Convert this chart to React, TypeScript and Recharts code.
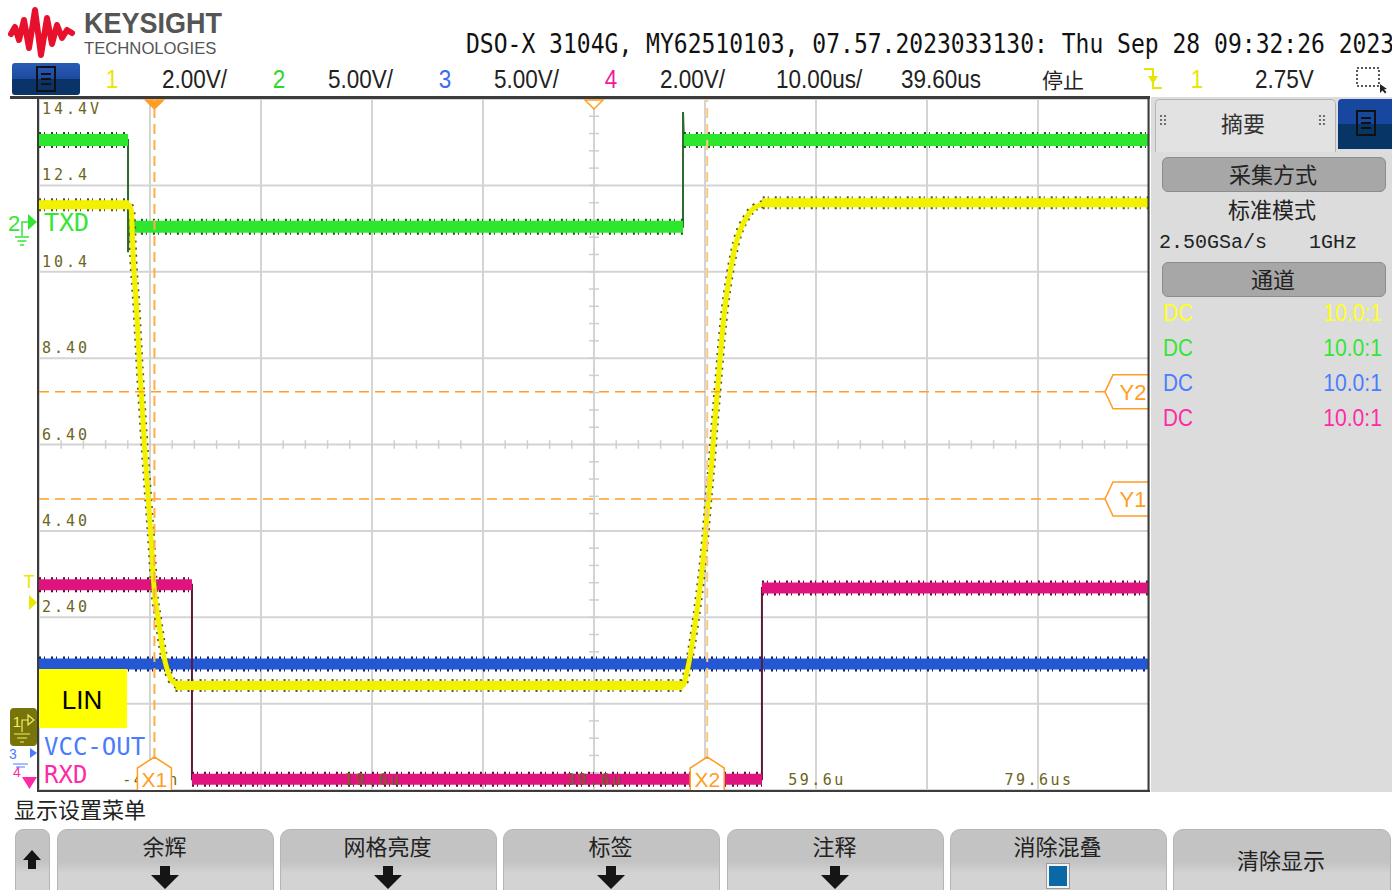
import React from "react"
import {
  LineChart,
  Line,
  XAxis,
  YAxis,
  CartesianGrid,
  ReferenceLine,
} from "recharts"

// time axis, microseconds (10 us/div, centre 39.6 us)
const timeTicks = [-10.4, -0.4, 9.6, 19.6, 29.6, 39.6, 49.6, 59.6, 69.6, 79.6, 89.6]
const timeLabels = ["", "-400n", "", "19.6u", "", "39.6u", "", "59.6u", "", "79.6us", ""]
// vertical axis in channel 1 volts (2 V/div)
const voltTicks = [-1.6, 0.4, 2.4, 4.4, 6.4, 8.4, 10.4, 12.4, 14.4]
const voltLabels = ["", "", "2.40", "4.40", "6.40", "8.40", "10.4", "12.4", "14.4V"]

// ch1 LIN (yellow)
const linTime = [-10.4, -2.4, -2.1, -1.9, -1.66, -1.3, -0.85, -0.55, -0.25, -0.04, 0.35, 0.8, 1.25, 1.67, 2.3, 47.6, 47.95, 48.4, 48.85, 49.3, 49.6, 49.9, 50.2, 50.5, 50.8, 51.1, 51.4, 51.85, 52.46, 53.36, 54.56, 56.06, 89.6]
const linVolt = [11.95, 11.95, 11.85, 10.67, 9.75, 8.06, 6.2, 5.12, 4.03, 3.1, 2.34, 1.57, 1.11, 0.9, 0.82, 0.82, 1.11, 1.71, 2.5, 3.42, 4.19, 5.12, 5.97, 6.97, 7.89, 8.82, 9.58, 10.37, 11.13, 11.67, 11.95, 12.0, 12.0]
const linBandTime = [-10.4, -2.3, -2.2, 1.9, 47.6, 47.7, 54.8, 89.6]
const linBandVolt = [11.95, 11.95, null, 0.82, 0.82, null, 12.0, 12.0]

// ch2 TXD (green)
const txdTime = [-10.4, -2.38, -2.38, -2.3, 47.62, 47.62, 47.7, 89.6]
const txdVolt = [13.45, 13.45, 10.85, 11.44, 11.44, 14.1, 13.45, 13.45]
const txdBandTime = [-10.4, -2.38, -2.34, -2.3, 47.62, 47.66, 47.7, 89.6]
const txdBandVolt = [13.45, 13.45, null, 11.44, 11.44, null, 13.45, 13.45]

// ch3 VCC-OUT (blue)
const vccTime = [-10.4, 89.6]
const vccVolt = [1.32, 1.32]

// ch4 RXD (pink)
const rxdTime = [-10.4, 3.38, 3.38, 54.73, 54.73, 89.6]
const rxdVolt = [3.15, 3.15, -1.35, -1.35, 3.08, 3.08]
const rxdBandTime = [-10.4, 3.38, 3.38, 3.38, 54.73, 54.73, 54.73, 89.6]
const rxdBandVolt = [3.15, 3.15, null, -1.35, -1.35, null, 3.08, 3.08]

// cursors
const cursorX1 = 0
const cursorX2 = 49.8
const cursorY1 = 5.14
const cursorY2 = 7.62
const triggerTime = 0
const timeRef = 39.6

const pts = (ts: number[], vs: (number | null)[]) => ts.map((t, i) => ({ t, v: vs[i] }))

const linPts = pts(linTime, linVolt)
const linBand = pts(linBandTime, linBandVolt)
const txdPts = pts(txdTime, txdVolt)
const txdBand = pts(txdBandTime, txdBandVolt)
const vccPts = pts(vccTime, vccVolt)
const rxdPts = pts(rxdTime, rxdVolt)
const rxdBand = pts(rxdBandTime, rxdBandVolt)

// minor graticule ticks on the centre lines
const minorTimes = timeTicks
  .slice(0, -1)
  .flatMap((t) => [0, 1, 2, 3, 4].map((k) => +(t + k * 2).toFixed(2)))
  .concat([89.6])
const minorVolts = voltTicks
  .slice(0, -1)
  .flatMap((v) => [0, 1, 2, 3, 4].map((k) => +(v + k * 0.4).toFixed(2)))
  .concat([14.4])

const SANS = "'Liberation Sans', Arial, sans-serif"
const MONO = "'DejaVu Sans Mono', monospace"
const CJK = "'Noto Sans CJK SC', sans-serif"
const SMONO = "'Liberation Mono', monospace"
const OLIVE = "#6b6520"
const ORANGE = "#ff9d24"

function Txt({ x, y, size, color = "#222", font = SANS, anchor = "start", sx = 1, weight = 400, children }: any) {
  const tx = anchor === "middle" ? "-50%" : anchor === "end" ? "-100%" : "0"
  const origin = anchor === "middle" ? "center" : anchor === "end" ? "right center" : "left center"
  return (
    <div
      style={{
        position: "absolute",
        left: x,
        top: y - size / 2,
        fontSize: size,
        lineHeight: `${size}px`,
        color,
        fontFamily: font,
        fontWeight: weight,
        whiteSpace: "nowrap",
        transform: `translateX(${tx}) scaleX(${sx})`,
        transformOrigin: origin,
      }}
    >
      {children}
    </div>
  )
}

function TimeTick(p: any) {
  const label = timeLabels[timeTicks.indexOf(p.payload.value)]
  if (!label) return <g />
  return (
    <text x={p.x + 1} y={790 - 10} textAnchor="middle" dominantBaseline="central" fill={OLIVE} fontSize={15} fontFamily={MONO} letterSpacing={2.5}>
      {label}
    </text>
  )
}

function VoltTick(p: any) {
  const label = voltLabels[voltTicks.indexOf(p.payload.value)]
  if (!label) return <g />
  const dy = p.payload.value === 14.4 ? 10 : -10
  return (
    <text x={42} y={p.y + dy} dominantBaseline="central" fill={OLIVE} fontSize={15} fontFamily={MONO} letterSpacing={3}>
      {label}
    </text>
  )
}

function XTag({ vb, text }: any) {
  const cx = vb.x
  const b = vb.y + vb.height
  const d = `M${cx - 17},${b} V${b - 22} L${cx},${b - 33} L${cx + 17},${b - 22} V${b}`
  return (
    <g>
      <path d={d} fill="#fff" stroke={ORANGE} strokeWidth={1.5} />
      <text x={cx} y={b - 11} textAnchor="middle" dominantBaseline="central" fill={ORANGE} fontSize={21} fontFamily={SANS}>
        {text}
      </text>
    </g>
  )
}

function YTag({ vb, text }: any) {
  const r = vb.x + vb.width
  const cy = vb.y
  const d = `M${r},${cy - 17} H${r - 36} L${r - 44},${cy} L${r - 36},${cy + 17} H${r}`
  return (
    <g>
      <path d={d} fill="#fff" stroke={ORANGE} strokeWidth={1.5} />
      <text x={r - 16} y={cy + 1} textAnchor="middle" dominantBaseline="central" fill={ORANGE} fontSize={22} fontFamily={SANS}>
        {text}
      </text>
    </g>
  )
}

function TopMark({ vb, filled }: any) {
  const cx = vb.x
  const t = vb.y
  return (
    <path
      d={`M${cx - 9},${t + 1} L${cx + 9},${t + 1} L${cx},${t + 10} Z`}
      fill={filled ? ORANGE : "#fff"}
      stroke={ORANGE}
      strokeWidth={1.5}
    />
  )
}

function DocIcon({ x, y }: any) {
  return (
    <svg style={{ position: "absolute", left: x, top: y }} width={22} height={26}>
      <rect x={2} y={1} width={18} height={24} fill="none" stroke="#111" strokeWidth={2} />
      <line x1={6} x2={16} y1={8} y2={8} stroke="#111" strokeWidth={2} />
      <line x1={6} x2={16} y1={13} y2={13} stroke="#111" strokeWidth={2} />
      <line x1={6} x2={16} y1={18} y2={18} stroke="#111" strokeWidth={2} />
    </svg>
  )
}

function Header() {
  return (
    <>
      <svg style={{ position: "absolute", left: 0, top: 0 }} width={80} height={62}>
        <polyline
          points="11,34 15,27 19,40 24,20 29,48 35,10 41,55 47,18 52,44 57,25 62,38 67,30 72,33"
          fill="none"
          stroke="#e8112d"
          strokeWidth={6}
          strokeLinejoin="round"
          strokeLinecap="round"
        />
      </svg>
      <Txt x={84} y={23} size={30} color="#555" sx={0.9} weight={700}>KEYSIGHT</Txt>
      <Txt x={84} y={48} size={17} color="#555" sx={0.98}>TECHNOLOGIES</Txt>
      <Txt x={466} y={44} size={26} font={MONO} sx={0.885} color="#111">
        DSO-X 3104G, MY62510103, 07.57.2023033130: Thu Sep 28 09:32:26 2023
      </Txt>
      <div
        style={{
          position: "absolute",
          left: 12,
          top: 63,
          width: 68,
          height: 32,
          borderRadius: 3,
          background: "linear-gradient(#2a5bb5 0%, #1d4a9e 50%, #0a3468 50%, #0a3468 100%)",
        }}
      />
      <DocIcon x={35} y={66} />
      <Txt x={112} y={79} size={25} color="#e8e800" anchor="middle" sx={0.9}>1</Txt>
      <Txt x={162} y={79} size={25} sx={0.9}>2.00V/</Txt>
      <Txt x={279} y={79} size={25} color="#2ed62e" anchor="middle" sx={0.9}>2</Txt>
      <Txt x={328} y={79} size={25} sx={0.9}>5.00V/</Txt>
      <Txt x={445} y={79} size={25} color="#3c6cf0" anchor="middle" sx={0.9}>3</Txt>
      <Txt x={494} y={79} size={25} sx={0.9}>5.00V/</Txt>
      <Txt x={611} y={79} size={25} color="#f01a9a" anchor="middle" sx={0.9}>4</Txt>
      <Txt x={660} y={79} size={25} sx={0.9}>2.00V/</Txt>
      <Txt x={776} y={79} size={25} sx={0.9}>10.00us/</Txt>
      <Txt x={901} y={79} size={25} sx={0.9}>39.60us</Txt>
      <Txt x={1042} y={79} size={21} font={CJK}>停止</Txt>
      <svg style={{ position: "absolute", left: 1140, top: 64 }} width={26} height={30}>
        <path d="M4,5 H13 V24 H22" fill="none" stroke="#e6e600" strokeWidth={2} />
        <path d="M8,12 H18 L13,20 Z" fill="#e6e600" />
      </svg>
      <Txt x={1197} y={79} size={25} color="#e8e800" anchor="middle" sx={0.9}>1</Txt>
      <Txt x={1255} y={79} size={25} sx={0.9}>2.75V</Txt>
      <svg style={{ position: "absolute", left: 1354, top: 64 }} width={36} height={30}>
        <rect x={3} y={4} width={22} height={18} fill="none" stroke="#222" strokeWidth={1.5} strokeDasharray="2 2" />
        <path d="M26,20 L26,29 L28.5,26.5 L31,29.5 L32.5,28 L30,25.5 L33,25 Z" fill="#222" />
      </svg>
    </>
  )
}

function SidePanel() {
  const rows = ["#ffff22", "#33e633", "#4a7cff", "#ff2aa6"]
  const dots = (x: number) =>
    [0, 1].flatMap((i) =>
      [0, 1, 2].map((j) => <circle key={`${x}-${i}-${j}`} cx={x + i * 4} cy={116 + j * 4} r={1.1} fill="#555" />)
    )
  return (
    <>
      <div style={{ position: "absolute", left: 1151, top: 97, width: 241, height: 695, background: "#dcdcdc" }} />
      <div
        style={{
          position: "absolute",
          left: 1155,
          top: 99,
          width: 179,
          height: 52,
          background: "#e2e2e2",
          border: "1px solid #b4b4b4",
          borderBottom: "none",
          borderRadius: "5px 5px 0 0",
        }}
      />
      <div
        style={{
          position: "absolute",
          left: 1338,
          top: 99,
          width: 54,
          height: 50,
          borderRadius: "4px 0 0 0",
          background: "linear-gradient(#17479e 0%, #17479e 50%, #063566 50%, #063566 100%)",
        }}
      />
      <DocIcon x={1355} y={110} />
      <svg style={{ position: "absolute", left: 0, top: 0 }} width={1392} height={140}>
        {dots(1161)}
        {dots(1320)}
      </svg>
      <Txt x={1243} y={122} size={22} font={CJK} anchor="middle" color="#333">摘要</Txt>
      <div style={{ position: "absolute", left: 1162, top: 157, width: 222, height: 33, borderRadius: 6, background: "#a7a7a7", border: "1px solid #8c8c8c" }} />
      <Txt x={1273} y={173} size={22} font={CJK} anchor="middle" color="#222">采集方式</Txt>
      <Txt x={1272} y={208} size={22} font={CJK} anchor="middle" color="#222">标准模式</Txt>
      <Txt x={1159} y={243} size={20} font={SMONO} color="#222">2.50GSa/s</Txt>
      <Txt x={1309} y={243} size={20} font={SMONO} color="#222">1GHz</Txt>
      <div style={{ position: "absolute", left: 1162, top: 262, width: 222, height: 33, borderRadius: 6, background: "#a7a7a7", border: "1px solid #8c8c8c" }} />
      <Txt x={1273} y={278} size={22} font={CJK} anchor="middle" color="#222">通道</Txt>
      {rows.map((c, i) => (
        <React.Fragment key={i}>
          <Txt x={1163} y={313 + i * 35} size={23} color={c} sx={0.9}>DC</Txt>
          <Txt x={1382} y={313 + i * 35} size={23} color={c} sx={0.92} anchor="end">10.0:1</Txt>
        </React.Fragment>
      ))}
    </>
  )
}

function DownArrow({ cx }: any) {
  return (
    <svg style={{ position: "absolute", left: cx - 15, top: 866 }} width={30} height={24}>
      <path d="M10,0 H20 V9 H29 L15,23 L1,9 H10 Z" fill="#151515" />
    </svg>
  )
}

function SoftKeys() {
  const keys = [
    { l: 57, r: 272, t: "余辉", mark: "arrow" },
    { l: 280, r: 495, t: "网格亮度", mark: "arrow" },
    { l: 503, r: 718, t: "标签", mark: "arrow" },
    { l: 727, r: 942, t: "注释", mark: "arrow" },
    { l: 950, r: 1165, t: "消除混叠", mark: "box" },
    { l: 1173, r: 1389, t: "清除显示", mark: "none" },
  ]
  const bg = "linear-gradient(#c3c3c3 0%, #c3c3c3 42%, #d3d3d3 58%, #d3d3d3 100%)"
  return (
    <>
      <Txt x={14} y={808} size={22} font={CJK} color="#222">显示设置菜单</Txt>
      <div style={{ position: "absolute", left: 15, top: 829, width: 33, height: 75, borderRadius: 8, background: bg, border: "1px solid #b5b5b5" }} />
      <svg style={{ position: "absolute", left: 20, top: 848 }} width={24} height={24}>
        <path d="M12,2 L21,12 H16 V21 H8 V12 H3 Z" fill="#151515" />
      </svg>
      {keys.map((k) => {
        const cx = (k.l + k.r) / 2
        return (
          <React.Fragment key={k.t}>
            <div style={{ position: "absolute", left: k.l, top: 829, width: k.r - k.l, height: 75, borderRadius: 10, background: bg, border: "1px solid #b5b5b5" }} />
            <Txt x={cx} y={k.mark === "none" ? 859 : 845} size={22} font={CJK} anchor="middle" color="#222">{k.t}</Txt>
            {k.mark === "arrow" && <DownArrow cx={cx} />}
            {k.mark === "box" && (
              <div style={{ position: "absolute", left: cx - 11, top: 864, width: 18, height: 20, background: "#0b68a6", border: "2px solid #f2f2f2", outline: "1px solid #9a9a9a" }} />
            )}
          </React.Fragment>
        )
      })}
    </>
  )
}

function Overlay() {
  return (
    <svg style={{ position: "absolute", left: 0, top: 0, pointerEvents: "none" }} width={1392} height={890}>
      {/* graticule frame */}
      <line x1={10} x2={1150} y1={97.5} y2={97.5} stroke="#3c3c3c" strokeWidth={3} />
      <line x1={38} x2={38} y1={97} y2={792} stroke="#3c3c3c" strokeWidth={2} />
      <line x1={37} x2={1150} y1={791} y2={791} stroke="#3c3c3c" strokeWidth={2} />
      <line x1={1148.5} x2={1148.5} y1={97} y2={792} stroke="#3c3c3c" strokeWidth={2} />

      {/* ch2 marker */}
      <text x={8} y={223} dominantBaseline="central" fill="#33e633" fontSize={22} fontFamily={SANS}>2</text>
      <path d="M22,236 V222 H28" fill="none" stroke="#33e633" strokeWidth={1.5} />
      <path d="M28,214 L37,222 L28,230 Z" fill="#33e633" />
      <path d="M15,237 H29 M17.5,241 H26.5 M20,245 H24" stroke="#33e633" strokeWidth={1.5} />

      {/* trigger level */}
      <text x={29} y={582} textAnchor="middle" dominantBaseline="central" fill="#e8e800" fontSize={18} fontFamily={SANS}>T</text>
      <path d="M29,595 L37,602.5 L29,610 Z" fill="#e8e800" />

      {/* ch1 marker */}
      <rect x={10} y={708} width={27} height={38} rx={4} fill="#77740c" />
      <text x={17} y={721} textAnchor="middle" dominantBaseline="central" fill="#f4f060" fontSize={15} fontFamily={SANS}>1</text>
      <path d="M22,732 V720 H28 M28,715 L34,720 L28,725 Z" fill="none" stroke="#f4f060" strokeWidth={1.2} />
      <path d="M14,734 H30 M17,738 H27 M20,742 H24" stroke="#f4f060" strokeWidth={1.2} />

      {/* ch3 / ch4 markers */}
      <text x={9} y={754} dominantBaseline="central" fill="#4a7cff" fontSize={14} fontFamily={SANS}>3</text>
      <path d="M30,748 L37,753 L30,758 Z" fill="#4a7cff" />
      <text x={13} y={772} dominantBaseline="central" fill="#ff2aa6" fontSize={14} fontFamily={SANS}>4</text>
      <path d="M13,764 H28 M16,767 H25" stroke="#4a7cff" strokeWidth={1.2} />
      <path d="M22,777 H37 L29.5,789 Z" fill="#ff2aa6" />

      {/* channel labels */}
      <text x={44} y={222} dominantBaseline="central" fill="#33e633" fontSize={25} fontFamily={MONO}>TXD</text>
      <text x={44} y={747} dominantBaseline="central" fill="#4a7cff" fontSize={24} fontFamily={MONO}>VCC-OUT</text>
      <text x={44} y={775} dominantBaseline="central" fill="#ff2aa6" fontSize={24} fontFamily={MONO}>RXD</text>

      {/* LIN annotation */}
      <rect x={39} y={669} width={88} height={59} fill="#ffff00" />
      <text x={82} y={700} textAnchor="middle" dominantBaseline="central" fill="#000" fontSize={26} fontFamily={SANS}>LIN</text>
    </svg>
  )
}

const lineBase = {
  dataKey: "v",
  dot: false,
  activeDot: false,
  isAnimationActive: false,
  connectNulls: false,
  legendType: "none" as const,
}

export default function App() {
  return (
    <div style={{ position: "absolute", left: 0, top: 0, width: 1392, height: 890, overflow: "hidden", background: "#fff" }}>
      <Header />
      <SidePanel />
      <SoftKeys />
      <div style={{ position: "absolute", left: 0, top: 0 }}>
        <LineChart width={1392} height={890} margin={{ top: 99, right: 243, bottom: 99, left: 38 }}>
          <CartesianGrid stroke="#d4d4d4" strokeWidth={2} />
          <XAxis
            type="number"
            dataKey="t"
            domain={[-10.4, 89.6]}
            ticks={timeTicks}
            interval={0}
            height={1}
            tickSize={0}
            tickMargin={0}
            axisLine={false}
            tickLine={false}
            allowDataOverflow
            zIndex={300}
            tick={(p: any) => <TimeTick {...p} />}
          />
          <YAxis
            type="number"
            domain={[-1.6, 14.4]}
            ticks={voltTicks}
            interval={0}
            width={1}
            tickSize={0}
            tickMargin={0}
            axisLine={false}
            tickLine={false}
            allowDataOverflow
            tick={(p: any) => <VoltTick {...p} />}
          />
          {minorTimes.map((t) => (
            <ReferenceLine key={`mt${t}`} segment={[{ x: t, y: 6.3 }, { x: t, y: 6.5 }]} stroke="#cfcfcf" strokeWidth={1.5} />
          ))}
          {minorVolts.map((v) => (
            <ReferenceLine key={`mv${v}`} segment={[{ x: 39.15, y: v }, { x: 40.05, y: v }]} stroke="#cfcfcf" strokeWidth={1.5} />
          ))}

          {/* ch3 VCC-OUT */}
          <Line {...lineBase} data={vccPts} type="linear" stroke="#0c1f5c" strokeWidth={15} strokeDasharray="2 3 1 6" />
          <Line {...lineBase} data={vccPts} type="linear" stroke="#2457d4" strokeWidth={11} />

          {/* ch4 RXD */}
          <Line {...lineBase} data={rxdPts} type="linear" stroke="#5b1a3a" strokeWidth={2} />
          <Line {...lineBase} data={rxdBand} type="linear" stroke="#5a0a30" strokeWidth={15} strokeDasharray="2 3 1 6" />
          <Line {...lineBase} data={rxdBand} type="linear" stroke="#e0147e" strokeWidth={11} />

          {/* ch2 TXD */}
          <Line {...lineBase} data={txdPts} type="linear" stroke="#2d6a2d" strokeWidth={2} />
          <Line {...lineBase} data={txdBand} type="linear" stroke="#0e5a0e" strokeWidth={16} strokeDasharray="2 3 1 6" />
          <Line {...lineBase} data={txdBand} type="linear" stroke="#2ee62e" strokeWidth={12} />

          {/* ch1 LIN */}
          <Line {...lineBase} data={linPts} type="monotone" stroke="#5e5e00" strokeWidth={8} strokeDasharray="2 5" />
          <Line {...lineBase} data={linBand} type="linear" stroke="#5e5e00" strokeWidth={13} strokeDasharray="2 3 1 6" />
          <Line {...lineBase} data={linBand} type="linear" stroke="#f2f200" strokeWidth={9} />
          <Line {...lineBase} data={linPts} type="monotone" stroke="#f2f200" strokeWidth={5} />

          {/* cursors and markers */}
          <ReferenceLine x={cursorX1} zIndex={2100} stroke="#ffae45" strokeWidth={2} strokeDasharray="10 6" label={(p: any) => <XTag vb={p.viewBox ?? p} text="X1" />} />
          <ReferenceLine x={cursorX2} zIndex={2100} stroke="#ffc77e" strokeWidth={2} strokeDasharray="10 6" label={(p: any) => <XTag vb={p.viewBox ?? p} text="X2" />} />
          <ReferenceLine y={cursorY2} stroke={ORANGE} strokeWidth={1.5} strokeDasharray="10 6" label={(p: any) => <YTag vb={p.viewBox ?? p} text="Y2" />} />
          <ReferenceLine y={cursorY1} stroke={ORANGE} strokeWidth={1.5} strokeDasharray="10 6" label={(p: any) => <YTag vb={p.viewBox ?? p} text="Y1" />} />
          <ReferenceLine x={triggerTime} stroke="none" label={(p: any) => <TopMark vb={p.viewBox ?? p} filled />} />
          <ReferenceLine x={timeRef} stroke="none" label={(p: any) => <TopMark vb={p.viewBox ?? p} />} />
        </LineChart>
      </div>
      <Overlay />
    </div>
  )
}
